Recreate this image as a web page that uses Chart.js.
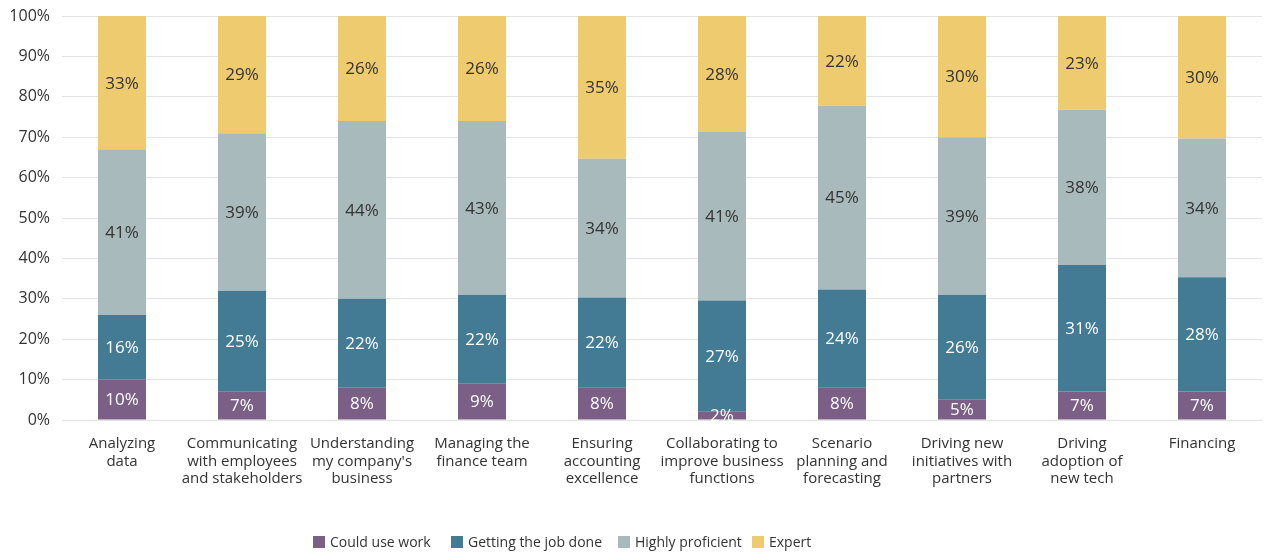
<!DOCTYPE html>
<html>
<head>
<meta charset="utf-8">
<script src="https://cdn.jsdelivr.net/npm/chart.js@4/dist/chart.umd.min.js"></script>
<style>
  html, body { margin: 0; padding: 0; background: #fff; }
  #wrap { position: relative; width: 1265px; height: 554px; }
  #legend { position: absolute; left: 0; top: 532px; width: 1265px; height: 16px;
            font: 14px "Open Sans", sans-serif; color: #333; }
  #legend .item { position: absolute; top: 0; display: flex; align-items: center; white-space: nowrap; }
  #legend .box { width: 12px; height: 12px; margin-right: 5px; }
</style>
</head>
<body>
<div id="wrap">
  <canvas id="chart" width="1265" height="554"></canvas>
  <div id="legend"></div>
</div>
<script>
////////////
//// Data

let CATEGORIES = [
	['Analyzing', 'data'],
	['Communicating', 'with employees', 'and stakeholders'],
	['Understanding', 'my company\'s', 'business'],
	['Managing the', 'finance team'],
	['Ensuring', 'accounting', 'excellence'],
	['Collaborating to', 'improve business', 'functions'],
	['Scenario', 'planning and', 'forecasting'],
	['Driving new', 'initiatives with', 'partners'],
	['Driving', 'adoption of', 'new tech'],
	['Financing']
];

let SERIES = ['Could use work', 'Getting the job done', 'Highly proficient', 'Expert'];

let COULD_USE_WORK   = [10,  7,  8,  9,  8,  2,  8,  5,  7,  7];
let GETTING_JOB_DONE = [16, 25, 22, 22, 22, 27, 24, 26, 31, 28];
let HIGHLY_PROFICIENT= [41, 39, 44, 43, 34, 41, 45, 39, 38, 34];
let EXPERT           = [33, 29, 26, 26, 35, 28, 22, 30, 23, 30];

let Y_TICKS = [0, 10, 20, 30, 40, 50, 60, 70, 80, 90, 100];

let COLORS = ['#7b5f86', '#437b95', '#a9babd', '#eecb6f'];
let LABEL_COLORS = ['#ffffff', '#ffffff', '#333333', '#333333'];

////////////
//// Build datasets (100% stacked: each column is scaled to its own total)

let raw = [COULD_USE_WORK, GETTING_JOB_DONE, HIGHLY_PROFICIENT, EXPERT];
let totals = CATEGORIES.map((c, j) => raw.reduce((s, arr) => s + arr[j], 0));

let datasets = [];
for (let i = 0; i < SERIES.length; ++i) {
	datasets.push({
		label: SERIES[i],
		data: raw[i].map((v, j) => v / totals[j] * 100),
		rawValues: raw[i],
		backgroundColor: COLORS[i],
		borderWidth: 0,
		categoryPercentage: 1,
		barPercentage: 0.4
	});
}

// labels in the middle of each segment
let segmentLabels = {
	id: 'segmentLabels',
	afterDatasetsDraw(chart) {
		let ctx = chart.ctx;
		ctx.save();
		ctx.font = '17px "Open Sans", sans-serif';
		ctx.textAlign = 'center';
		ctx.textBaseline = 'middle';
		chart.data.datasets.forEach((ds, i) => {
			let meta = chart.getDatasetMeta(i);
			ctx.fillStyle = LABEL_COLORS[i];
			meta.data.forEach((bar, j) => {
				let p = bar.getProps(['x', 'y', 'base'], true);
				ctx.fillText(ds.rawValues[j] + '%', p.x, (p.y + p.base) / 2 + 1);
			});
		});
		ctx.restore();
	}
};

////////////
//// Chart

let ctx = document.getElementById('chart').getContext('2d');
let chart = new Chart(ctx, {
	type: 'bar',
	data: { labels: CATEGORIES, datasets: datasets },
	options: {
		responsive: false,
		animation: false,
		layout: { padding: { top: 16, right: 3, left: 0, bottom: 0 } },
		plugins: {
			legend: { display: false },
			tooltip: { enabled: false }
		},
		scales: {
			x: {
				stacked: true,
				grid: { display: false },
				border: { display: false },
				ticks: {
					color: '#333',
					font: { family: '"Open Sans", sans-serif', size: 15, lineHeight: 1.17 },
					padding: 7,
					maxRotation: 0,
					autoSkip: false
				},
				afterFit: s => { s.height = 134; }
			},
			y: {
				stacked: true,
				min: 0,
				max: 100,
				afterBuildTicks: s => { s.ticks = Y_TICKS.map(v => ({ value: v })); },
				grid: { color: '#e4e4e4', drawTicks: false },
				border: { display: false },
				ticks: {
					color: '#333',
					font: { family: '"Open Sans", sans-serif', size: 16 },
					padding: 12,
					callback: v => v + '%'
				},
				afterFit: s => { s.width = 62; s.paddingTop = 0; s.paddingBottom = 0; }
			}
		}
	},
	plugins: [segmentLabels]
});

// legend below the chart
let LEGEND_X = [313, 451, 618, 752];
let legend = document.getElementById('legend');
SERIES.forEach((name, i) => {
	let item = document.createElement('div');
	item.className = 'item';
	item.style.left = LEGEND_X[i] + 'px';
	item.innerHTML = '<span class="box" style="background:' + COLORS[i] + '"></span>' + name;
	legend.appendChild(item);
});
</script>
</body>
</html>
